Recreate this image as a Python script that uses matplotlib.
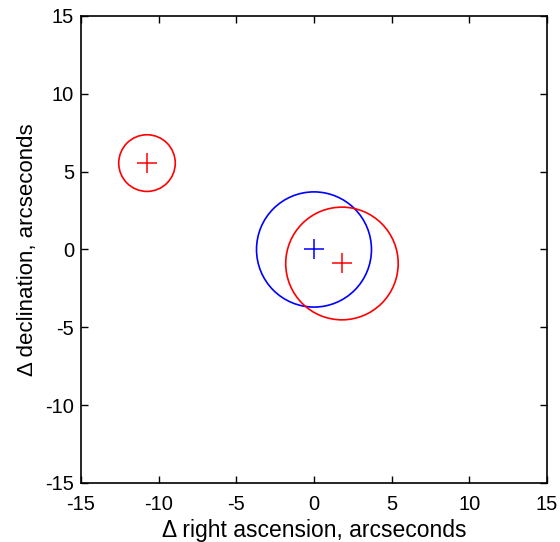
"""Error circles of source positions (offsets in arcseconds)."""
import matplotlib
matplotlib.use("Agg")
import matplotlib.pyplot as plt
from matplotlib.patches import Circle

matplotlib.rcParams["font.family"] = ["Liberation Sans", "DejaVu Sans"]
matplotlib.rcParams["axes.unicode_minus"] = False

# source positions (delta RA, delta Dec) and error radii, arcseconds
ra_offsets = [0.0, 1.8, -10.75]
dec_offsets = [0.0, -0.9, 5.55]
radii = [3.7, 3.62, 1.82]
colors = ["blue", "red", "red"]

ticks = [-15, -10, -5, 0, 5, 10, 15]

fig = plt.figure(figsize=(5.6, 5.42), dpi=100)
ax = fig.add_axes([0.1446, 0.1089, 0.8322, 0.8616])

for x, y, r, c in zip(ra_offsets, dec_offsets, radii, colors):
    ax.add_patch(Circle((x, y), r, fill=False, edgecolor=c, linewidth=1.2))
    ax.plot(x, y, marker="+", color=c, markersize=14, markeredgewidth=1.1)

ax.set_xlim(-15, 15)
ax.set_ylim(-15, 15)
ax.set_xticks(ticks)
ax.set_yticks(ticks)
ax.tick_params(direction="in", top=True, right=True, length=5, width=1.0,
               labelsize=14.5)
ax.tick_params(axis="x", pad=9)
ax.tick_params(axis="y", pad=5)
for s in ax.spines.values():
    s.set_linewidth(1.2)
ax.set_xlabel("\u0394 right ascension, arcseconds", fontsize=16.5, labelpad=3)
ax.set_ylabel("\u0394 declination, arcseconds", fontsize=16, labelpad=5)

fig.savefig("out.png", dpi=100)
